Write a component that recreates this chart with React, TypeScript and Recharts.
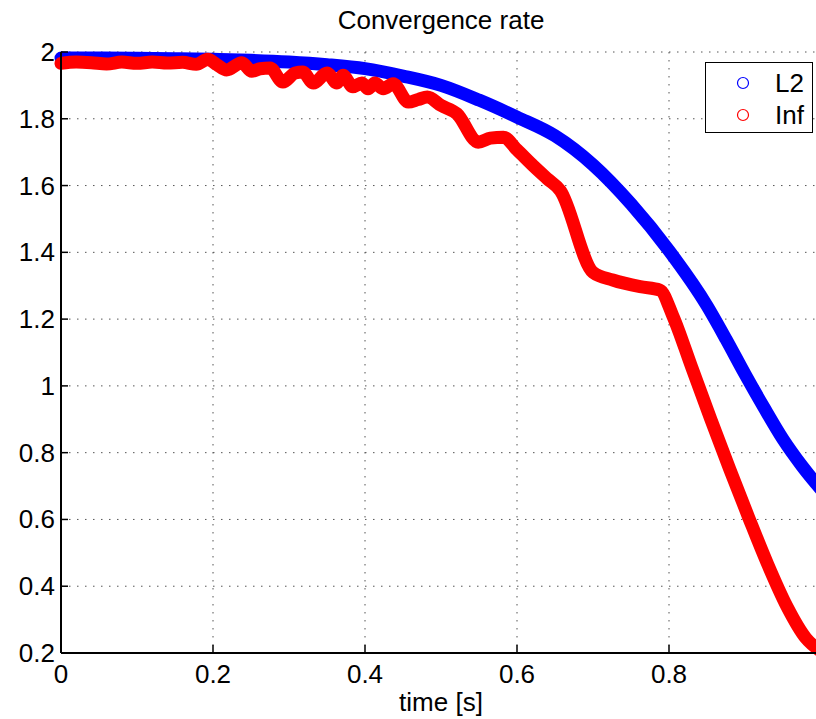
import React from 'react';
import { LineChart, Line, XAxis, YAxis, CartesianGrid, Legend } from 'recharts';

// L2 error convergence rate
const l2Time = [0, 0.05, 0.1, 0.15, 0.2, 0.25, 0.3, 0.35, 0.4, 0.45, 0.5, 0.55, 0.6, 0.65, 0.7, 0.75, 0.8, 0.85, 0.875, 0.9, 0.925, 0.95, 0.975, 1.0];
const l2Value = [1.982, 1.982, 1.981, 1.98, 1.978, 1.975, 1.97, 1.962, 1.95, 1.928, 1.9, 1.856, 1.805, 1.749, 1.662, 1.545, 1.405, 1.24, 1.14, 1.035, 0.935, 0.84, 0.76, 0.69];

// Inf norm convergence rate
const infTime = [
    0, 0.02, 0.04, 0.06, 0.08, 0.1, 0.12, 0.14, 0.16, 0.178, 0.193, 0.205, 0.218, 0.238, 0.251, 0.262, 0.275,
    0.292, 0.308, 0.318, 0.332, 0.35, 0.363, 0.371, 0.384, 0.396, 0.404, 0.413, 0.424, 0.437, 0.457, 0.47, 0.482,
    0.5, 0.521, 0.549, 0.565, 0.582, 0.6, 0.621, 0.64, 0.657, 0.7, 0.726, 0.762, 0.788, 0.805, 0.83, 0.855, 0.88,
    0.905, 0.93, 0.955, 0.98, 1.0,
];
const infValue = [
    1.966, 1.97, 1.968, 1.964, 1.97, 1.966, 1.97, 1.967, 1.969, 1.963, 1.978, 1.962, 1.946, 1.968, 1.942, 1.95, 1.952,
    1.91, 1.937, 1.94, 1.907, 1.937, 1.907, 1.93, 1.896, 1.907, 1.89, 1.907, 1.89, 1.905, 1.85, 1.858, 1.865,
    1.84, 1.815, 1.73, 1.742, 1.745, 1.707, 1.66, 1.62, 1.585, 1.34, 1.317, 1.297, 1.287, 1.21, 1.055, 0.9, 0.75,
    0.605, 0.465, 0.34, 0.245, 0.205,
];

const seriesNames = ['L2', 'Inf'];
const seriesColors = ['#0000ff', '#ff0000'];

const xTicks = [0, 0.2, 0.4, 0.6, 0.8];
const yTicks = [0.2, 0.4, 0.6, 0.8, 1, 1.2, 1.4, 1.6, 1.8, 2];

const l2Data = l2Time.map((t, i) => ({ t, v: l2Value[i] }));
const infData = infTime.map((t, i) => ({ t, v: infValue[i] }));

const FONT = '"Liberation Sans", Arial, Helvetica, sans-serif';
const fmt = (v: number) => String(Number(v.toFixed(1)));

const BottomTick = ({ x, y, payload }: any) => (
    <g>
        <line x1={x} y1={y} x2={x} y2={y - 8} stroke="#000" strokeWidth={1.5} />
        <text x={x} y={y + 30} textAnchor="middle" fontSize={26} fontFamily={FONT} fill="#000">
            {fmt(payload.value)}
        </text>
    </g>
);

const TopTick = ({ x, y }: any) => (
    <line x1={x} y1={y} x2={x} y2={y + 6} stroke="#000" strokeWidth={1.5} />
);

const LeftTick = ({ x, y, payload }: any) => (
    <g>
        <line x1={x} y1={y} x2={x + 7} y2={y} stroke="#000" strokeWidth={1.5} />
        <text x={x - 6} y={y + 9} textAnchor="end" fontSize={26} fontFamily={FONT} fill="#000">
            {fmt(payload.value)}
        </text>
    </g>
);

// legend drawn in series order (L2 first), like the matlab one
const LegendBox = () => (
    <div style={{ width: 108, height: 71, boxSizing: 'border-box', border: '1.5px solid #000', background: '#fff', fontFamily: FONT }}>
        {seriesNames.map((name, i) => (
            <div key={name} style={{ position: 'relative', height: 32, marginTop: i === 0 ? 4 : 0 }}>
                <svg width={14} height={14} style={{ position: 'absolute', left: 30, top: 9 }}>
                    <circle cx={7} cy={7} r={5.5} fill="none" stroke={seriesColors[i]} strokeWidth={1.2} />
                </svg>
                <span style={{ position: 'absolute', left: 69, top: 1, fontSize: 26, lineHeight: '30px', color: '#000' }}>{name}</span>
            </div>
        ))}
    </div>
);

export default function App() {
    return (
        <div style={{ position: 'absolute', left: 0, top: 0, width: 816, height: 719, overflow: 'hidden', background: '#fff', fontFamily: FONT }}>
            <div style={{ position: 'absolute', left: 61, top: 5, width: 760, textAlign: 'center', fontSize: 26, lineHeight: '30px', color: '#000' }}>
                Convergence rate
            </div>
            <LineChart width={840} height={719} margin={{ top: 52, right: 19, bottom: 0, left: 0 }}>
                <CartesianGrid stroke="#555" strokeDasharray="1.5 6.5" strokeWidth={1} />
                <XAxis
                    dataKey="t"
                    type="number"
                    domain={[0, 1]}
                    ticks={xTicks}
                    height={66}
                    tickSize={0}
                    tickMargin={0}
                    tick={<BottomTick />}
                    axisLine={{ stroke: '#000', strokeWidth: 2 }}
                    allowDuplicatedCategory={false}
                />
                <XAxis
                    xAxisId="top"
                    orientation="top"
                    dataKey="t"
                    type="number"
                    domain={[0, 1]}
                    ticks={xTicks}
                    height={0}
                    tickSize={0}
                    tickMargin={0}
                    tick={<TopTick />}
                    axisLine={{ stroke: '#000', strokeWidth: 2 }}
                />
                <YAxis
                    type="number"
                    domain={[0.2, 2]}
                    ticks={yTicks}
                    width={61}
                    tickSize={0}
                    tickMargin={0}
                    tick={<LeftTick />}
                    axisLine={{ stroke: '#000', strokeWidth: 2 }}
                />
                <Legend
                    layout="horizontal"
                    verticalAlign="middle"
                    align="center"
                    content={<LegendBox />}
                    wrapperStyle={{ position: 'absolute', left: 705, top: 62, width: 108, height: 71 }}
                />
                <Line
                    data={l2Data}
                    dataKey="v"
                    name={seriesNames[0]}
                    type="monotone"
                    stroke={seriesColors[0]}
                    strokeWidth={13}
                    strokeLinecap="round"
                    strokeLinejoin="round"
                    dot={false}
                    activeDot={false}
                    isAnimationActive={false}
                />
                <Line
                    data={infData}
                    dataKey="v"
                    name={seriesNames[1]}
                    type="monotone"
                    stroke={seriesColors[1]}
                    strokeWidth={13}
                    strokeLinecap="round"
                    strokeLinejoin="round"
                    dot={false}
                    activeDot={false}
                    isAnimationActive={false}
                />
            </LineChart>
            <div style={{ position: 'absolute', left: 61, top: 687, width: 760, textAlign: 'center', fontSize: 26, lineHeight: '30px', color: '#000' }}>
                time [s]
            </div>
        </div>
    );
}
